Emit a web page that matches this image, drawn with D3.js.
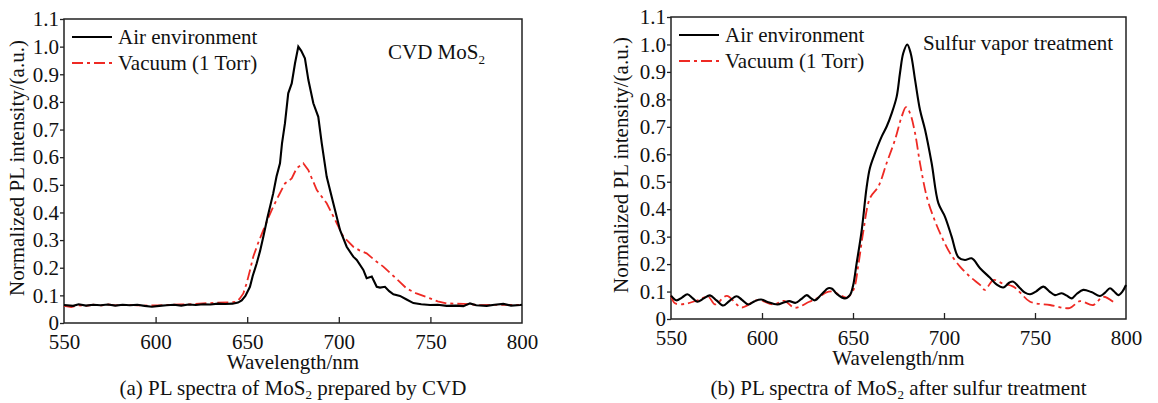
<!DOCTYPE html>
<html>
<head>
<meta charset="utf-8">
<script src="https://cdn.jsdelivr.net/npm/d3@7"></script>
<style>
  body { margin: 0; background: #fff; }
  text { font-family: "Liberation Serif", "Times New Roman", serif; fill: #111; }
</style>
</head>
<body>
<div id="chart"></div>
<script>

// Data

var xTicks = [550, 600, 650, 700, 750, 800]
var yTicks = [0, 0.1, 0.2, 0.3, 0.4, 0.5, 0.6, 0.7, 0.8, 0.9, 1.0, 1.1]
var yTickLabels = ['0', '0.1', '0.2', '0.3', '0.4', '0.5', '0.6', '0.7', '0.8', '0.9', '1.0', '1.1']
var seriesNames = ['Air environment', 'Vacuum (1 Torr)']

// (a) CVD MoS2
var cvdAirNm = [550, 555, 558, 562, 566, 570, 574, 578, 582, 586, 590, 594, 598, 602, 606, 610, 614, 618, 622, 626, 630, 634, 638, 642, 645, 647, 649, 651.5, 653, 655.2, 657, 658.8, 661, 664.2, 666, 667.9, 669, 670.6, 672.4, 674.3, 676.1, 677.9, 679.5, 681.5, 683.4, 686.1, 688.8, 690.7, 693.4, 697, 700.7, 704.3, 707.9, 709.8, 713.4, 715.2, 718, 720.7, 722.5, 725.2, 727.5, 729.8, 733.4, 737, 740.7, 745, 749.8, 754, 758.9, 764, 768, 771.6, 775, 780.7, 785, 789.8, 794, 799, 800]
var cvdAir = [0.065, 0.062, 0.068, 0.063, 0.066, 0.064, 0.067, 0.063, 0.066, 0.064, 0.066, 0.062, 0.059, 0.062, 0.064, 0.066, 0.063, 0.067, 0.065, 0.068, 0.067, 0.070, 0.069, 0.070, 0.074, 0.082, 0.098, 0.131, 0.170, 0.216, 0.260, 0.312, 0.380, 0.469, 0.530, 0.578, 0.650, 0.722, 0.831, 0.867, 0.940, 1.000, 0.985, 0.958, 0.879, 0.795, 0.746, 0.650, 0.529, 0.433, 0.336, 0.276, 0.240, 0.228, 0.192, 0.162, 0.168, 0.131, 0.128, 0.131, 0.115, 0.104, 0.098, 0.085, 0.072, 0.068, 0.065, 0.066, 0.062, 0.063, 0.061, 0.071, 0.064, 0.062, 0.066, 0.069, 0.063, 0.065, 0.066]
var cvdVacNm = [550, 554, 558, 562, 566, 570, 574, 578, 584, 590, 596, 602, 608, 614, 620, 626, 633, 640, 644.3, 646, 647.9, 649.7, 651.5, 653.3, 656, 658.8, 661.5, 664.2, 667.5, 670.6, 674.3, 677, 680.6, 683.4, 685.5, 688, 693.4, 698.9, 702.5, 707.9, 711.5, 715.2, 720, 724.3, 729.8, 733.4, 737, 742, 749.8, 754, 758.9, 768, 777, 788, 799]
var cvdVac = [0.062, 0.058, 0.064, 0.062, 0.066, 0.063, 0.067, 0.064, 0.066, 0.064, 0.063, 0.064, 0.066, 0.067, 0.068, 0.071, 0.073, 0.075, 0.077, 0.089, 0.107, 0.144, 0.190, 0.240, 0.290, 0.336, 0.380, 0.421, 0.465, 0.505, 0.523, 0.560, 0.578, 0.553, 0.520, 0.481, 0.433, 0.361, 0.312, 0.276, 0.262, 0.252, 0.225, 0.204, 0.170, 0.148, 0.125, 0.108, 0.089, 0.078, 0.071, 0.069, 0.065, 0.066, 0.065]

// (b) after sulfur vapor treatment
var sulAirNm = [550, 553, 556, 559, 562, 564.5, 568, 571.4, 575, 578.7, 582, 586, 589, 592.5, 596, 599.5, 603, 608.5, 612, 615, 618.5, 621.5, 624.6, 627, 629.1, 632.5, 636.4, 638.5, 641, 645.5, 648.4, 650, 652, 654.8, 657.5, 659.3, 662.1, 665.8, 668.5, 671.3, 674, 675.8, 677.6, 679.8, 681.7, 684.1, 686.8, 689.6, 693.2, 696.9, 700.5, 704.2, 707.9, 711.5, 715.2, 719.8, 725.3, 729, 732.6, 736, 738.1, 741.8, 744.5, 747.3, 750.5, 754.6, 758, 761, 764.7, 767.5, 770.2, 773, 776.5, 781, 785.7, 788.5, 791.2, 793.5, 795.8, 798, 800]
var sulAir = [0.085, 0.068, 0.078, 0.090, 0.075, 0.063, 0.075, 0.086, 0.068, 0.049, 0.065, 0.083, 0.070, 0.053, 0.065, 0.071, 0.062, 0.053, 0.060, 0.065, 0.059, 0.072, 0.087, 0.075, 0.068, 0.088, 0.112, 0.110, 0.092, 0.075, 0.088, 0.120, 0.203, 0.324, 0.480, 0.550, 0.604, 0.665, 0.701, 0.750, 0.810, 0.895, 0.968, 1.000, 0.968, 0.871, 0.762, 0.689, 0.568, 0.422, 0.373, 0.300, 0.225, 0.215, 0.221, 0.185, 0.150, 0.125, 0.115, 0.133, 0.136, 0.112, 0.096, 0.090, 0.100, 0.118, 0.100, 0.087, 0.094, 0.085, 0.075, 0.092, 0.106, 0.098, 0.084, 0.096, 0.112, 0.100, 0.087, 0.100, 0.124]
var sulVacNm = [550, 552.2, 557.7, 565, 570.5, 574.2, 580.6, 588.8, 597.5, 606.5, 612, 618.1, 626, 631, 635, 639, 642.9, 646.6, 650.2, 653, 655.7, 659.3, 663.9, 668.5, 673.1, 676.8, 679.1, 681.3, 684.1, 686.8, 690.5, 694.1, 698.7, 703.3, 708.8, 714.3, 719.8, 722.5, 727.1, 732, 738.1, 742, 747.3, 758.2, 769, 774.7, 782, 787.5, 794]
var sulVac = [0.085, 0.057, 0.055, 0.069, 0.081, 0.053, 0.084, 0.042, 0.069, 0.053, 0.066, 0.041, 0.063, 0.078, 0.096, 0.100, 0.087, 0.078, 0.105, 0.200, 0.320, 0.440, 0.482, 0.568, 0.653, 0.738, 0.772, 0.750, 0.677, 0.568, 0.446, 0.373, 0.300, 0.240, 0.191, 0.154, 0.124, 0.106, 0.142, 0.130, 0.118, 0.095, 0.063, 0.051, 0.040, 0.065, 0.051, 0.081, 0.057]

/* Drawing */

var width = 1158
var height = 403
var red = '#ee2a24'
var fontSize = 21
var serif = '"Liberation Serif", "Times New Roman", serif'

var svg = d3.select('#chart').append('svg')
  .attr('width', width)
  .attr('height', height)

function zip(xs, ys) {
  return xs.map(function(x, i) { return {x: x, y: ys[i]} })
}

function drawPanel(p) {
  var xScale = d3.scaleLinear().domain([550, 800]).range([p.left, p.right])
  var yScale = d3.scaleLinear().domain([0, 1.1]).range([p.bottom, p.top])

  var g = svg.append('g')

  // x axis, ticks pointing inward
  g.append('g')
    .attr('transform', 'translate(0,' + p.bottom + ')')
    .call(d3.axisBottom(xScale).tickValues(xTicks).tickSizeInner(-6).tickSizeOuter(0).tickPadding(11))
    .call(function(a) {
      a.select('.domain').remove()
      a.selectAll('.tick line').attr('stroke', '#222').attr('stroke-width', 1.3)
        .filter(function(d) { return d == 550 || d == 800 }).remove()
      a.selectAll('.tick text').attr('font-size', fontSize).attr('fill', '#111')
        .style('font-family', serif)
    })

  // y axis
  g.append('g')
    .attr('transform', 'translate(' + p.left + ',0)')
    .call(d3.axisLeft(yScale).tickValues(yTicks).tickSizeInner(4).tickSizeOuter(0).tickPadding(1)
      .tickFormat(function(d, i) { return yTickLabels[i] }))
    .call(function(a) {
      a.select('.domain').remove()
      a.selectAll('.tick line').attr('stroke', '#222').attr('stroke-width', 1.3)
      a.selectAll('.tick text').attr('font-size', fontSize).attr('fill', '#111')
        .style('font-family', serif)
    })

  // frame
  g.append('rect')
    .attr('x', p.left).attr('y', p.top)
    .attr('width', p.right - p.left).attr('height', p.bottom - p.top)
    .attr('fill', 'none').attr('stroke', '#222').attr('stroke-width', 1.5)

  var line = d3.line()
    .x(function(d) { return xScale(d.x) })
    .y(function(d) { return yScale(d.y) })
    .curve(p.curve)

  g.append('path')
    .datum(zip(p.vacNm, p.vac))
    .attr('d', line)
    .attr('fill', 'none').attr('stroke', red).attr('stroke-width', 1.8)
    .attr('stroke-dasharray', '11,4,3,4')

  g.append('path')
    .datum(zip(p.airNm, p.air))
    .attr('d', line)
    .attr('fill', 'none').attr('stroke', '#000').attr('stroke-width', 2.1)

  // legend
  var lx = p.left + 8
  g.append('line').attr('x1', lx).attr('x2', lx + 40).attr('y1', p.top + 18).attr('y2', p.top + 18)
    .attr('stroke', '#000').attr('stroke-width', 2.1)
  g.append('text').attr('x', lx + 46).attr('y', p.top + 25).attr('font-size', fontSize).text(seriesNames[0])
  g.append('line').attr('x1', lx).attr('x2', lx + 40).attr('y1', p.top + 44).attr('y2', p.top + 44)
    .attr('stroke', red).attr('stroke-width', 1.8).attr('stroke-dasharray', '11,4,3,4')
  g.append('text').attr('x', lx + 46).attr('y', p.top + 51).attr('font-size', fontSize).text(seriesNames[1])

  // note in the corner
  var note = g.append('text').attr('x', p.noteX).attr('y', p.noteY).attr('font-size', fontSize)
  note.append('tspan').text(p.note)
  if (p.noteSub) {
    note.append('tspan').attr('font-size', 13).attr('dy', 5).text(p.noteSub)
  }

  // axis titles
  var cx = (p.left + p.right) / 2
  g.append('text')
    .attr('x', cx).attr('y', p.bottom + 46)
    .attr('text-anchor', 'middle').attr('font-size', fontSize)
    .text('Wavelength/nm')

  g.append('text')
    .attr('transform', 'translate(' + p.yTitleX + ',' + p.yTitleY + ') rotate(-90)')
    .attr('text-anchor', 'middle').attr('font-size', fontSize)
    .text('Normalized PL intensity/(a.u.)')

  // caption
  var cap = g.append('text')
    .attr('x', cx).attr('y', 395)
    .attr('text-anchor', 'middle').attr('font-size', fontSize)
  cap.append('tspan').text(p.caption[0])
  cap.append('tspan').attr('font-size', 13).attr('dy', 4).text('2')
  cap.append('tspan').attr('dy', -4).text(p.caption[1])
}

drawPanel({
  left: 64, right: 522, top: 19, bottom: 323,
  airNm: cvdAirNm, air: cvdAir, vacNm: cvdVacNm, vac: cvdVac,
  curve: d3.curveLinear,
  note: 'CVD MoS', noteSub: '2', noteX: 388, noteY: 59,
  yTitleX: 24, yTitleY: 168,
  caption: ['(a) PL spectra of MoS', ' prepared by CVD']
})

drawPanel({
  left: 671, right: 1126, top: 17, bottom: 319,
  airNm: sulAirNm, air: sulAir, vacNm: sulVacNm, vac: sulVac,
  curve: d3.curveCatmullRom,
  note: 'Sulfur vapor treatment', noteSub: null, noteX: 923, noteY: 50,
  yTitleX: 628, yTitleY: 165,
  caption: ['(b) PL spectra of MoS', ' after sulfur treatment']
})

</script>
</body>
</html>
